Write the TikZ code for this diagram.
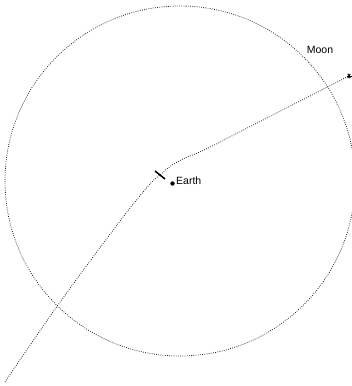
\documentclass[tikz,border=0pt]{standalone}
\usepackage{fontspec}
\setmainfont{Liberation Sans}
\usetikzlibrary{calc}
\begin{document}
\begin{tikzpicture}[x=1pt,y=-1pt,
  orbit/.style={draw=black!85, line width=0.8pt, dash pattern=on 0.8pt off 1.4pt},
  lbl/.style={font=\fontsize{10.5}{12}\selectfont, inner sep=0pt, text=black},
  tickmark/.style={draw=black, line width=1.5pt}]
\useasboundingbox (0,0) rectangle (352,386);
% Moon orbit
\node[orbit, circle, minimum size=350pt, inner sep=0pt] (orbitc) at (180,181) {};
% Earth
\coordinate (earthdot) at (172.5,183.5);
\fill[black] (earthdot) circle (2.2pt);
\node[lbl, anchor=west] (earth) at (176,180.5) {Earth};
\node[lbl] (moon) at (320,49.5) {Moon};
% trajectory
\coordinate (start) at (5,382);
\coordinate (burn) at (160,175);
\coordinate (finish) at (349,76);
\draw[orbit] plot[smooth, tension=0.6] coordinates
  {(5,382) (58,305) (120,221) (150,184) (160,175) (170,166.5) (185,158) (205,149.5) (260,121.5) (349,76)};
\draw[tickmark] ($(burn)+(-5,-4)$) coordinate (t1) -- ($(burn)+(5,4)$) coordinate (t2);
% end marker
\foreach \a in {0,60,120}
  \draw[black, line width=1pt] ($(finish)+(\a:2.5)$) -- ($(finish)+(\a+180:2.5)$);
\end{tikzpicture}
\end{document}
